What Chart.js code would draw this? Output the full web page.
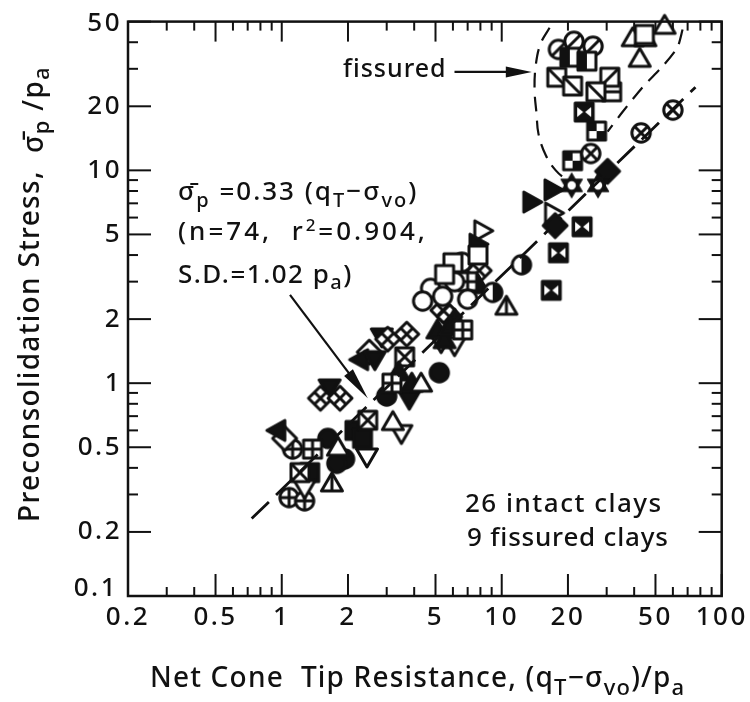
<!DOCTYPE html>
<html><head><meta charset="utf-8">
<style>html,body{margin:0;padding:0;background:#fff}canvas{display:block}</style>
<script src="https://cdn.jsdelivr.net/npm/chart.js@4"></script>
</head><body><canvas id="c" width="750" height="702"></canvas>
<script>
// Axis ticks
const xTickLabels = [0.2,0.5,1,2,5,10,20,50,100];
const xMinorTicks = [0.3,0.4,0.6,0.7,0.8,0.9,3,4,6,7,8,9,30,40,60,70,80,90];
const yTickLabels = [0.1,0.2,0.5,1,2,5,10,20,50];
const yMinorTicks = [0.3,0.4,0.6,0.7,0.8,0.9,3,4,6,7,8,9,30,40];

// Regression and envelope lines
const fitX = [0.73,76], fitY = [0.231,24.6];
const fissLeftX = [16.5,15.0,14.3,14.1,14.4,14.7,15.9,17.6,20];
const fissLeftY = [46.8,39.2,31.5,24.1,18.4,14.8,11.7,10,8.9];
const fissRightX = [66.4,63,54,43.7,35.4,30.3];
const fissRightY = [45.9,37.9,30.9,24.6,18.8,15.2];

// Points by symbol
const squareOpenX=[44.5,7.8,6,5.5], squareOpenY=[43.5,4.0,3.68,3.24];
const triOpenX=[55,39.4,45,42.4,4.3,3.2,1.8], triOpenY=[48,42,42,33.6,1.0,0.66,0.5];
const triBarX=[10.5,1.69], triBarY=[2.3,0.34];
const circleOpenX=[6.1,4.75,4.37,5.39,7], circleOpenY=[3,2.79,2.43,2.56,2.48];
const slashCircleX=[18.1,21.3,26], slashCircleY=[37,40.4,38.3];
const halfSquareX=[20.4,24.4], halfSquareY=[34,32.6];
const diagSquareX=[17.8,21,26.8], diagSquareY=[27.4,24.9,23.4];
const diagSquareBX=[31], diagSquareBY=[27.4];
const hLineSquareX=[31.6], hLineSquareY=[23.4];
const bowtieX=[23.7,23.2,18.1,16.8], bowtieY=[18.8,5.43,4.1,2.73];
const checkerX=[27,21], checkerY=[15.3,11.1];
const xCircleX=[25.4,43,60], xCircleY=[12,15,19.2];
const starX=[20.8,27.4], starY=[8.5,8.5];
const fillDiamondX=[30.3,17.5], fillDiamondY=[9.9,5.5];
const fillRightTriX=[17.1,13.7,7.8], fillRightTriY=[8.1,7.1,4.5];
const openRightTriX=[17.2,8.2], openRightTriY=[6.3,5.2];
const halfCircleX=[12.3,9.1], halfCircleY=[3.6,2.67];
const halfCircleLX=[6.6], halfCircleLY=[3.7];
const fillTriUpX=[5.1,6.1,5.5,5.8,7.8,3.4,3.9], fillTriUpY=[1.78,2,1.6,1.85,2.9,1.13,1.0];
const gridDiamondX=[7.9,5.4,5.8,3.7,3.03,1.5,1.84], gridDiamondY=[3.38,2.2,2.05,1.7,1.61,0.85,0.85];
const gridSquareX=[7,6.65,3.17,1.38], gridSquareY=[3,1.78,1,0.49];
const xSquareX=[3.62,2.46,1.21], xSquareY=[1.33,0.67,0.38];
const triDownX=[6.1,5.3,3.5,2.44,1.27], triDownY=[1.5,1.55,0.58,0.45,0.32];
const fillCircleX=[5.2,3,1.93,1.78,1.62], fillCircleY=[1.12,0.87,0.44,0.42,0.55];
const fillSquareX=[2.15,2.33,1.34], fillSquareY=[0.6,0.55,0.38];
const fillTriLeftX=[2.26,0.95], fillTriLeftY=[1.29,0.6];
const fillTriDownX=[2.85,2.65,1.65,3.8], fillTriDownY=[1.65,1.29,0.95,0.84];
const whiteDiamondX=[1.03,2.5], whiteDiamondY=[0.55,1.4];
const plusCircleX=[1.12,1.08,1.27], plusCircleY=[0.49,0.29,0.28];

const INK='#111';
function mk(fn){
  const c=document.createElement('canvas');c.width=34;c.height=34;
  const g=c.getContext('2d');g.translate(17,17);g.lineWidth=3;g.strokeStyle=INK;g.fillStyle='#fff';g.lineJoin='round';
  fn(g);return c;
}
function poly(g,p,fill){g.beginPath();p.forEach((q,i)=>i?g.lineTo(q[0],q[1]):g.moveTo(q[0],q[1]));g.closePath();g.fillStyle=fill||'#fff';g.fill();g.stroke();}
function seg(g,a,b,c,d){g.beginPath();g.moveTo(a,b);g.lineTo(c,d);g.stroke();}
function circ(g,f){g.beginPath();g.arc(0,0,9.2,0,7);g.fillStyle=f||'#fff';g.fill();g.stroke();}
const sq=[[-9,-9],[9,-9],[9,9],[-9,9]];
const up=[[0,-10],[10.5,8],[-10.5,8]];
const dn=[[0,10],[10.5,-8],[-10.5,-8]];
const rt=[[10,0],[-8,-10],[-8,10]];
const lf=[[-10,0],[8,-10],[8,10]];
const dm=[[0,-12],[12,0],[0,12],[-12,0]];
const star1=[[0,-12.5],[10.8,6.2],[-10.8,6.2]];
const star2=[[0,12.5],[10.8,-6.2],[-10.8,-6.2]];
const sym={
 squareOpen:mk(g=>poly(g,sq)),
 triOpen:mk(g=>poly(g,up)),
 triBar:mk(g=>{poly(g,up);seg(g,0,-8,0,8)}),
 circleOpen:mk(g=>circ(g)),
 slashCircle:mk(g=>{circ(g);seg(g,-6.5,6.5,6.5,-6.5)}),
 halfSquare:mk(g=>{poly(g,sq);g.fillStyle=INK;g.fillRect(-9,-9,9,18)}),
 diagSquare:mk(g=>{poly(g,sq);seg(g,-9,-9,9,9)}),
 diagSquareB:mk(g=>{poly(g,sq);seg(g,-9,9,9,-9)}),
 hLineSquare:mk(g=>{poly(g,sq);seg(g,-9,0,9,0)}),
 bowtie:mk(g=>{poly(g,sq,INK);g.fillStyle='#fff';[[-7,-5,-1,0,-7,5],[7,-5,1,0,7,5]].forEach(t=>{g.beginPath();g.moveTo(t[0],t[1]);g.lineTo(t[2],t[3]);g.lineTo(t[4],t[5]);g.fill()})}),
 checker:mk(g=>{poly(g,sq);g.fillStyle=INK;g.fillRect(-9,-9,9,9);g.fillRect(0,0,9,9)}),
 xCircle:mk(g=>{circ(g);seg(g,-6.5,-6.5,6.5,6.5);seg(g,-6.5,6.5,6.5,-6.5)}),
 star:mk(g=>{g.lineWidth=1;g.fillStyle=INK;[star1,star2].forEach(t=>poly(g,t,INK));g.fillStyle='#fff';g.beginPath();g.arc(0,0,4.2,0,7);g.fill()}),
 fillDiamond:mk(g=>poly(g,dm,INK)),
 fillRightTri:mk(g=>poly(g,rt,INK)),
 openRightTri:mk(g=>poly(g,rt)),
 halfCircle:mk(g=>{circ(g);g.fillStyle=INK;g.beginPath();g.arc(0,0,9.2,-Math.PI/2,Math.PI/2);g.fill()}),
 halfCircleL:mk(g=>{circ(g);g.fillStyle=INK;g.beginPath();g.arc(0,0,9.2,Math.PI/2,3*Math.PI/2);g.fill()}),
 fillTriUp:mk(g=>poly(g,up,INK)),
 gridDiamond:mk(g=>{poly(g,dm);seg(g,-6,-6,6,6);seg(g,-6,6,6,-6)}),
 gridSquare:mk(g=>{poly(g,sq);seg(g,-9,0,9,0);seg(g,0,-9,0,9)}),
 xSquare:mk(g=>{poly(g,sq);seg(g,-9,-9,9,9);seg(g,-9,9,9,-9)}),
 triDown:mk(g=>poly(g,dn)),
 fillCircle:mk(g=>circ(g,INK)),
 fillSquare:mk(g=>poly(g,sq,INK)),
 fillTriLeft:mk(g=>poly(g,lf,INK)),
 fillTriDown:mk(g=>poly(g,dn,INK)),
 whiteDiamond:mk(g=>poly(g,dm)),
 plusCircle:mk(g=>{circ(g);seg(g,-9,0,9,0);seg(g,0,-9,0,9)})
};
const zip=(a,b)=>a.map((v,i)=>({x:v,y:b[i]}));
function pts(name,xs,ys){return {data:zip(xs,ys),pointStyle:sym[name],pointRadius:9,showLine:false,clip:false};}
function curve(xs,ys,dash,w,tension){return {data:zip(xs,ys),showLine:true,pointRadius:0,borderColor:INK,borderWidth:w,borderDash:dash,tension:tension,fill:false,clip:false};}

const datasets=[
 curve(fitX,fitY,[24,10],2.8,0),
 curve(fissLeftX,fissLeftY,[15,9],2.2,0.4),
 curve(fissRightX,fissRightY,[15,9],2.2,0.2),
 pts('squareOpen',squareOpenX,squareOpenY),
 pts('circleOpen',circleOpenX,circleOpenY),
 pts('gridSquare',gridSquareX,gridSquareY),
 pts('triOpen',triOpenX,triOpenY),
 pts('triBar',triBarX,triBarY),
 pts('halfSquare',halfSquareX,halfSquareY),
 pts('slashCircle',slashCircleX,slashCircleY),
 pts('diagSquare',diagSquareX,diagSquareY),
 pts('diagSquareB',diagSquareBX,diagSquareBY),
 pts('hLineSquare',hLineSquareX,hLineSquareY),
 pts('bowtie',bowtieX,bowtieY),
 pts('xCircle',xCircleX,xCircleY),
 pts('checker',checkerX,checkerY),
 pts('star',starX,starY),
 pts('fillDiamond',fillDiamondX,fillDiamondY),
 pts('fillRightTri',fillRightTriX,fillRightTriY),
 pts('openRightTri',openRightTriX,openRightTriY),
 pts('halfCircle',halfCircleX,halfCircleY),
 pts('halfCircleL',halfCircleLX,halfCircleLY),
 pts('fillTriUp',fillTriUpX,fillTriUpY),
 pts('gridDiamond',gridDiamondX,gridDiamondY),
 pts('xSquare',xSquareX,xSquareY),
 pts('triDown',triDownX,triDownY),
 pts('fillCircle',fillCircleX,fillCircleY),
 pts('fillSquare',fillSquareX,fillSquareY),
 pts('fillTriDown',fillTriDownX,fillTriDownY),
 pts('fillTriLeft',fillTriLeftX,fillTriLeftY),
 pts('whiteDiamond',whiteDiamondX,whiteDiamondY),
 pts('plusCircle',plusCircleX,plusCircleY)
];

const FAM='"Noto Sans", sans-serif';
function runs(ctx,x,y,list,spacing){
  ctx.letterSpacing=(spacing==null?1.5:spacing)+'px';
  ctx.textAlign='left';ctx.textBaseline='alphabetic';
  let cx=x;
  list.forEach(r=>{ctx.font='500 '+(r[1]||26)+'px '+FAM;ctx.fillText(r[0],cx,y+(r[2]||0));cx+=ctx.measureText(r[0]).width;});
  return cx;
}
function arrow(ctx,x0,y0,x1,y1,len,wid,lw){
  const a=Math.atan2(y1-y0,x1-x0);
  ctx.lineWidth=lw;ctx.beginPath();ctx.moveTo(x0,y0);ctx.lineTo(x1-Math.cos(a)*len*.6,y1-Math.sin(a)*len*.6);ctx.stroke();
  ctx.save();ctx.translate(x1,y1);ctx.rotate(a);ctx.beginPath();ctx.moveTo(0,0);ctx.lineTo(-len,-wid/2);ctx.lineTo(-len,wid/2);ctx.closePath();ctx.fill();ctx.restore();
}
const overlay={
 id:'overlay',
 beforeDraw(ch){ch.ctx.letterSpacing='2.5px';},
 afterDraw(ch){
  const c=ch.ctx,a=ch.chartArea,X=ch.scales.x,Y=ch.scales.y;
  c.save();c.strokeStyle=INK;c.fillStyle=INK;c.lineCap='butt';
  const T=(x0,y0,x1,y1,w)=>{c.lineWidth=w;c.beginPath();c.moveTo(x0,y0);c.lineTo(x1,y1);c.stroke();};
  xTickLabels.forEach(v=>{const p=X.getPixelForValue(v);T(p,a.bottom,p,a.bottom-22,2);T(p,a.top,p,a.top+(v===20||v===50?9:20),2);});
  xMinorTicks.forEach(v=>{const p=X.getPixelForValue(v);T(p,a.bottom,p,a.bottom-9,2);T(p,a.top,p,a.top+9,2);});
  yTickLabels.forEach(v=>{const p=Y.getPixelForValue(v);T(a.left,p,a.left+23,p,2);T(a.right,p,a.right-23,p,2);});
  yMinorTicks.forEach(v=>{const p=Y.getPixelForValue(v);T(a.left,p,a.left+10,p,2);T(a.right,p,a.right-10,p,2);});
  c.lineWidth=2.5;c.strokeRect(a.left,a.top,a.right-a.left,a.bottom-a.top);
  c.letterSpacing='2.5px';c.font='500 26px '+FAM;c.textAlign='right';c.textBaseline='middle';
  c.fillText('50',122,24);c.fillText('0.1',118,589);
  arrow(c,X.getPixelForValue(6.1),Y.getPixelForValue(29),X.getPixelForValue(13.7),Y.getPixelForValue(29),26,11,2.2);
  arrow(c,X.getPixelForValue(1.09),Y.getPixelForValue(2.6),X.getPixelForValue(2.46),Y.getPixelForValue(0.85),32,11,2.2);
  runs(c,343,77,[['fissured',25]],1);
  runs(c,178,200,[['σ̄'],['p',20,7],[' =0.33 (q'],['T',20,7],['−σ'],['vo',20,7],[')']],2);
  runs(c,178,240,[['(n=74,  r'],['2',17,-9],['=0.904,']],3);
  runs(c,178,283,[['S.D.=1.02 p'],['a',20,6],[')']],1.5);
  runs(c,465,512,[['26 intact clays']],1.5);
  runs(c,467,546,[['9 fissured clays']],0.8);
  runs(c,150,687,[['Net Cone  Tip Resistance, ',28],['(q',28],['T',22,8],['−σ',28],['vo',22,8],[')/p',28],['a',22,8]],1.2);
  c.save();c.translate(39,522);c.rotate(-Math.PI/2);
  runs(c,0,0,[['Preconsolidation Stress,  ',28],['σ̄',28,4],['p',22,10],[' /p',28,4],['a',22,10]],1.3);
  c.restore();
  c.restore();
 }
};
new Chart(document.getElementById('c'),{
 type:'scatter',
 data:{datasets},
 plugins:[overlay],
 options:{
  responsive:false,animation:false,devicePixelRatio:1,
  layout:{padding:{left:0,right:28,top:17,bottom:0}},
  plugins:{legend:{display:false},tooltip:{enabled:false}},
  scales:{
   x:{type:'logarithmic',min:0.2,max:100,
    grid:{display:false,drawTicks:false},border:{display:false},
    afterBuildTicks(s){s.ticks=xTickLabels.map(v=>({value:v}));},
    afterFit(s){s.height=106;},
    ticks:{autoSkip:false,maxRotation:0,padding:6,color:INK,font:{family:FAM,size:26,weight:'500'},callback:v=>String(v)}},
   y:{type:'logarithmic',min:0.1,max:50,
    grid:{display:false,drawTicks:false},border:{display:false},
    afterBuildTicks(s){s.ticks=yTickLabels.map(v=>({value:v}));},
    afterFit(s){s.width=128;},
    ticks:{autoSkip:false,padding:6,color:INK,font:{family:FAM,size:26,weight:'500'},callback:v=>(v===50||v===0.1)?'':String(v)}}
  }
 }
});
</script></body></html>
